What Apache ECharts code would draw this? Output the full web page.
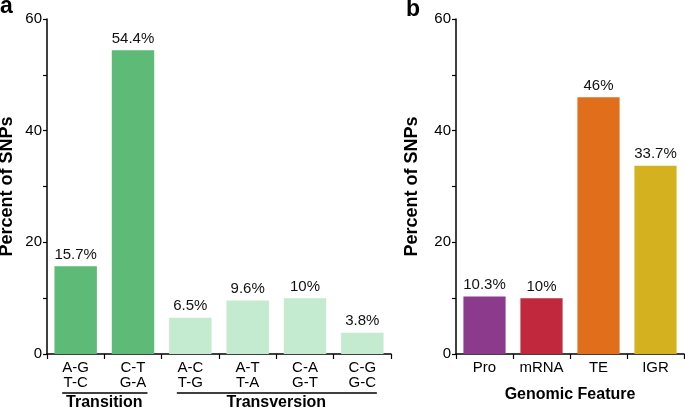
<!DOCTYPE html>
<html>
<head>
<meta charset="utf-8">
<script src="https://cdn.jsdelivr.net/npm/echarts@6/dist/echarts.min.js"></script>
<style>html,body{margin:0;padding:0;background:#fff}#c{width:685px;height:410px}</style>
</head>
<body>
<div id="c"></div>
<script>
// Panel a data
const catsA = ['A-G\nT-C', 'C-T\nG-A', 'A-C\nT-G', 'A-T\nT-A', 'C-A\nG-T', 'C-G\nG-C'];
const valsA = [15.7, 54.4, 6.5, 9.6, 10, 3.8];
const groupsA = [
  { name: 'Transition', from: 0, to: 1 },
  { name: 'Transversion', from: 2, to: 5 }
];
// Panel b data
const catsB = ['Pro', 'mRNA', 'TE', 'IGR'];
const valsB = [10.3, 10, 46, 33.7];
const yLabelTicks = [0, 20, 40, 60];

const colorsA = ['#5dba77', '#5dba77', '#c4ebd0', '#c4ebd0', '#c4ebd0', '#c4ebd0'];
const colorsB = ['#8c3a8c', '#c1283e', '#e16e1b', '#d4b11e'];

const FONT = '"Liberation Sans", Arial, Helvetica, sans-serif';
const chart = echarts.init(document.getElementById('c'), null, { renderer: 'canvas' });

function yAxis(gridIndex, gap) {
  return {
    type: 'value', gridIndex, min: 0, max: 60, interval: 10,
    name: 'Percent of SNPs', nameLocation: 'middle', nameGap: gap, nameMoveOverlap: false,
    nameTextStyle: { fontFamily: FONT, fontSize: 18, fontWeight: 'bold', color: '#000' },
    axisLine: { show: true, lineStyle: { color: '#000', width: 1.5 } },
    axisTick: { show: true, length: 4, lineStyle: { color: '#000', width: 1.2 } },
    axisLabel: {
      margin: 5, fontFamily: FONT, fontSize: 15, color: '#000',
      formatter: v => (yLabelTicks.indexOf(v) >= 0 ? String(v) : '')
    },
    splitLine: { show: false }
  };
}
function xAxis(gridIndex, data, name) {
  return {
    type: 'category', gridIndex, data,
    name: name || '', nameLocation: 'middle', nameGap: 33, nameMoveOverlap: false,
    nameTextStyle: { fontFamily: FONT, fontSize: 16, fontWeight: 'bold', color: '#000' },
    axisLine: { show: true, lineStyle: { color: '#000', width: 1.5 } },
    axisTick: { show: true, length: 5, alignWithLabel: false, lineStyle: { color: '#000', width: 1.2 } },
    axisLabel: { margin: 6, fontFamily: FONT, fontSize: 15, lineHeight: 15, color: '#000', interval: 0 }
  };
}
function barSeries(i, vals, colors) {
  return {
    type: 'bar', xAxisIndex: i, yAxisIndex: i, barWidth: '74%',
    data: vals.map((v, k) => ({ value: v, itemStyle: { color: colors[k] } })),
    label: {
      show: true, position: 'top', distance: 4, fontFamily: FONT, fontSize: 15, color: '#111',
      formatter: p => p.value + '%'
    },
    animation: false
  };
}

chart.setOption({
  animation: false,
  grid: [
    { left: 47, right: 294, top: 19, bottom: 56, containLabel: false, outerBoundsMode: 'none' },
    { left: 456, right: 1, top: 19, bottom: 56, containLabel: false, outerBoundsMode: 'none' }
  ],
  xAxis: [xAxis(0, catsA), xAxis(1, catsB, 'Genomic Feature')],
  yAxis: [yAxis(0, 30.5), yAxis(1, 35)],
  series: [barSeries(0, valsA, colorsA), barSeries(1, valsB, colorsB)]
});

// Group brackets and labels under panel a, positioned through the axis scale
const g = [];
const y0 = chart.convertToPixel({ yAxisIndex: 0 }, 0);
groupsA.forEach(gr => {
  const x1 = chart.convertToPixel({ xAxisIndex: 0 }, catsA[gr.from]);
  const x2 = chart.convertToPixel({ xAxisIndex: 0 }, catsA[gr.to]);
  g.push({
    type: 'line', silent: true,
    shape: { x1: x1 - 13.5, y1: y0 + 39, x2: x2 + 14.5, y2: y0 + 39 },
    style: { stroke: '#000', lineWidth: 1.5 }
  });
  g.push({
    type: 'text', silent: true, x: (x1 + x2) / 2, y: y0 + 41,
    style: { text: gr.name, fontFamily: FONT, fontSize: 16, fontWeight: 'bold', fill: '#000', align: 'center', verticalAlign: 'top' }
  });
});
g.push({ type: 'text', x: 0, y: -5, style: { text: 'a', fontFamily: FONT, fontSize: 23, fontWeight: 'bold', fill: '#000' } });
g.push({ type: 'text', x: 406, y: -2, style: { text: 'b', fontFamily: FONT, fontSize: 23, fontWeight: 'bold', fill: '#000' } });
chart.setOption({ graphic: g });
</script>
</body>
</html>
